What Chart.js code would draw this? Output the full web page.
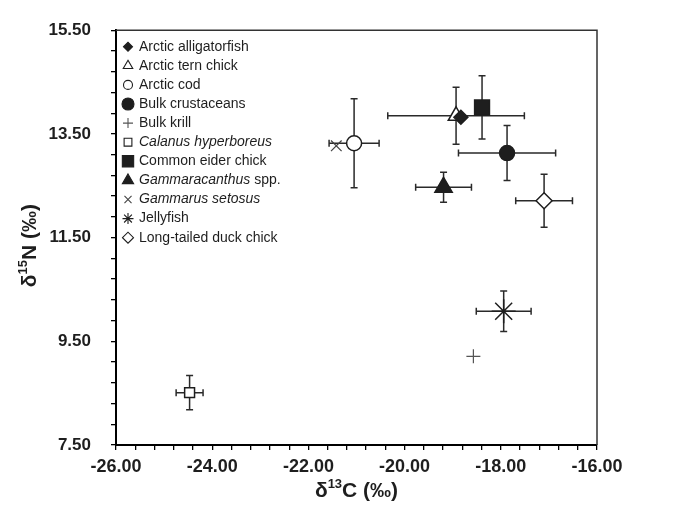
<!DOCTYPE html>
<html>
<head>
<meta charset="utf-8">
<script src="https://cdn.jsdelivr.net/npm/chart.js@4/dist/chart.umd.min.js"></script>
<style>
  html, body { margin: 0; padding: 0; background: #fff; }
  #wrap { width: 678px; height: 506px; position: relative; }
</style>
</head>
<body>
<div id="wrap"><canvas id="isoChart" width="678" height="506"></canvas></div>
<script>
// series names (legend order)
const groups = ['Arctic alligatorfish', 'Arctic tern chick', 'Arctic cod', 'Bulk crustaceans', 'Bulk krill',
    'Calanus hyperboreus', 'Common eider chick', 'Gammaracanthus spp.', 'Gammarus setosus', 'Jellyfish',
    'Long-tailed duck chick'];
// italic part of each name
const italicPart = ['', '', '', '', '', 'Calanus hyperboreus', '', 'Gammaracanthus', 'Gammarus setosus', '', ''];

// mean values and SD
const d13C = [-18.83, -18.93, -21.05, -17.87, -18.57, -24.47, -18.39, -19.19, -21.42, -17.94, -17.10];
const d15N = [13.82, 13.85, 13.32, 13.13, 9.21, 8.51, 14.01, 12.47, 13.27, 10.08, 12.21];
const sd13C = [0, 1.42, 0.52, 1.01, 0, 0.28, 0, 0.58, 0, 0.57, 0.59];
const sd15N = [0, 0.55, 0.86, 0.53, 0, 0.33, 0.61, 0.29, 0, 0.39, 0.51];

// axis ranges / ticks
const xMin = -26, xMax = -16;
const yMin = 7.5, yMax = 15.5;
const tickStep = 0.4, labelStep = 2;

// marker look per series
const markers = [
    { style: 'rectRot', fill: true, r: 7, lr: 4.5 },
    { style: 'triangle', fill: false, r: 9, lr: 5.5 },
    { style: 'circle', fill: false, r: 7.5, lr: 4.5 },
    { style: 'circle', fill: true, r: 7.5, lr: 6 },
    { style: 'cross', fill: false, r: 7, lr: 5, color: '#555', bw: 1.2 },
    { style: 'rect', fill: false, r: 7, lr: 5.5 },
    { style: 'rect', fill: true, r: 10.5, lr: 8 },
    { style: 'triangle', fill: true, r: 10, lr: 6.5 },
    { style: 'crossRot', fill: false, r: 7.5, lr: 5, color: '#444', bw: 1.2 },
    { style: 'star', fill: false, r: 12, lr: 5.5 },
    { style: 'rectRot', fill: false, r: 8, lr: 5.5 }
];

const FONT = '"Liberation Sans", Arial, sans-serif';
const INK = '#1e1e1e';

const datasets = groups.map((name, i) => {
    const m = markers[i];
    return {
        label: name,
        data: [{ x: d13C[i], y: d15N[i] }],
        pointStyle: m.style,
        pointRadius: m.r,
        pointHoverRadius: m.r,
        pointBackgroundColor: m.fill ? INK : '#fff',
        pointBorderColor: m.color || INK,
        pointBorderWidth: m.bw || 1.5,
        showLine: false
    };
});

const isMajor = (v, min) => {
    const k = (v - min) / labelStep;
    return Math.abs(k - Math.round(k)) < 1e-6;
};

// error bars under the markers
const errorBars = {
    id: 'errorBars',
    beforeDatasetsDraw(chart) {
        const ctx = chart.ctx;
        const xs = chart.scales.x, ys = chart.scales.y;
        const cap = 3.5;
        ctx.save();
        ctx.strokeStyle = '#2a2a2a';
        ctx.lineWidth = 1.5;
        groups.forEach((g, i) => {
            const px = xs.getPixelForValue(d13C[i]);
            const py = ys.getPixelForValue(d15N[i]);
            if (sd13C[i] > 0) {
                const l = xs.getPixelForValue(d13C[i] - sd13C[i]);
                const r = xs.getPixelForValue(d13C[i] + sd13C[i]);
                ctx.beginPath();
                ctx.moveTo(l, py); ctx.lineTo(r, py);
                ctx.moveTo(l, py - cap); ctx.lineTo(l, py + cap);
                ctx.moveTo(r, py - cap); ctx.lineTo(r, py + cap);
                ctx.stroke();
            }
            if (sd15N[i] > 0) {
                const t = ys.getPixelForValue(d15N[i] + sd15N[i]);
                const b = ys.getPixelForValue(d15N[i] - sd15N[i]);
                ctx.beginPath();
                ctx.moveTo(px, t); ctx.lineTo(px, b);
                ctx.moveTo(px - cap, t); ctx.lineTo(px + cap, t);
                ctx.moveTo(px - cap, b); ctx.lineTo(px + cap, b);
                ctx.stroke();
            }
        });
        ctx.restore();
    }
};

// title with superscript, centred on (cx, cy)
function drawSupTitle(ctx, pre, sup, post, cx, cy, rotate) {
    const big = 'bold 21px ' + FONT, small = 'bold 13px ' + FONT;
    ctx.save();
    ctx.translate(cx, cy);
    if (rotate) ctx.rotate(-Math.PI / 2);
    ctx.fillStyle = INK;
    ctx.textBaseline = 'middle';
    ctx.textAlign = 'left';
    ctx.font = big; const w1 = ctx.measureText(pre).width, w3 = ctx.measureText(post).width;
    ctx.font = small; const w2 = ctx.measureText(sup).width;
    let x = -(w1 + w2 + w3) / 2;
    ctx.font = big; ctx.fillText(pre, x, 0); x += w1;
    ctx.font = small; ctx.fillText(sup, x, -7); x += w2;
    ctx.font = big; ctx.fillText(post, x, 0);
    ctx.restore();
}

const frameAndLegend = {
    id: 'frameAndLegend',
    afterDraw(chart) {
        const ctx = chart.ctx;
        const a = chart.chartArea;
        ctx.save();
        // top and right frame
        ctx.strokeStyle = '#333';
        ctx.lineWidth = 1.5;
        ctx.beginPath();
        ctx.moveTo(a.left, a.top); ctx.lineTo(a.right, a.top); ctx.lineTo(a.right, a.bottom);
        ctx.stroke();

        // legend
        const mx = a.left + 12, tx = a.left + 23;
        groups.forEach((name, i) => {
            const y = a.top + 16.5 + i * 19.1;
            const m = markers[i];
            ctx.fillStyle = m.fill ? INK : '#fff';
            ctx.strokeStyle = m.color || INK;
            ctx.lineWidth = 1.1;
            Chart.helpers.drawPoint(ctx, { pointStyle: m.style, radius: m.lr, rotation: 0, borderWidth: 1.1 }, mx, y);
            ctx.fillStyle = INK;
            ctx.textBaseline = 'middle';
            ctx.textAlign = 'left';
            let x = tx;
            const it = italicPart[i];
            if (it) {
                ctx.font = 'italic 14px ' + FONT;
                ctx.fillText(it, x, y);
                x += ctx.measureText(it).width;
            }
            const rest = name.slice(it.length);
            if (rest) {
                ctx.font = '14px ' + FONT;
                ctx.fillText(rest, x, y);
            }
        });

        // axis titles
        drawSupTitle(ctx, '\u03b4', '13', 'C (\u2030)', (a.left + a.right) / 2, 491, false);
        drawSupTitle(ctx, '\u03b4', '15', 'N (\u2030)', 30, (a.top + a.bottom) / 2 + 8, true);
        ctx.restore();
    }
};

new Chart(document.getElementById('isoChart'), {
    type: 'scatter',
    data: { datasets: datasets },
    options: {
        responsive: false,
        animation: false,
        events: [],
        layout: { padding: { left: 0, right: 81, top: 24, bottom: 0 } },
        plugins: { legend: { display: false }, tooltip: { enabled: false } },
        scales: {
            x: {
                type: 'linear',
                min: xMin, max: xMax,
                afterFit: s => { s.height = 61; },
                border: { display: true, color: '#000', width: 2 },
                grid: { drawOnChartArea: false, drawTicks: true, tickLength: 5, color: '#000', lineWidth: 1.3 },
                ticks: {
                    stepSize: tickStep, maxTicksLimit: 100, autoSkip: false, maxRotation: 0,
                    color: INK, font: { family: FONT, size: 18, weight: 'bold' }, padding: 6,
                    callback: v => isMajor(v, xMin) ? v.toFixed(2) : ''
                }
            },
            y: {
                type: 'linear',
                min: yMin, max: yMax,
                afterFit: s => { s.width = 116; },
                border: { display: true, color: '#000', width: 2 },
                grid: { drawOnChartArea: false, drawTicks: true, tickLength: 5, color: '#000', lineWidth: 1.3 },
                ticks: {
                    stepSize: tickStep, maxTicksLimit: 100, autoSkip: false,
                    color: INK, font: { family: FONT, size: 17, weight: 'bold' }, padding: 20,
                    callback: v => isMajor(v, yMin) ? v.toFixed(2) : ''
                }
            }
        }
    },
    plugins: [errorBars, frameAndLegend]
});
</script>
</body>
</html>
